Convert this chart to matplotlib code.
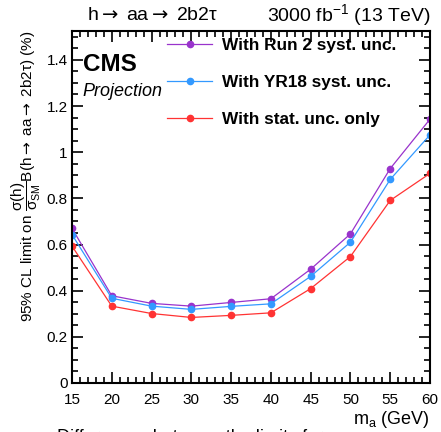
import matplotlib
matplotlib.use("Agg")
import matplotlib.pyplot as plt
from matplotlib.ticker import MultipleLocator

plt.rcParams['font.family'] = ['Liberation Sans', 'DejaVu Sans']
plt.rcParams['mathtext.fontset'] = 'custom'
plt.rcParams['mathtext.rm'] = 'Liberation Sans'
plt.rcParams['mathtext.it'] = 'Liberation Sans:italic'
plt.rcParams['mathtext.bf'] = 'Liberation Sans:bold'
plt.rcParams['mathtext.sf'] = 'DejaVu Sans'

mass = [15, 20, 25, 30, 35, 40, 45, 50, 55, 60]
run2_syst = [0.670, 0.378, 0.345, 0.333, 0.349, 0.365, 0.493, 0.646, 0.929, 1.143]
yr18_syst = [0.643, 0.367, 0.333, 0.319, 0.332, 0.343, 0.462, 0.610, 0.882, 1.075]
stat_only = [0.593, 0.333, 0.301, 0.284, 0.293, 0.304, 0.409, 0.548, 0.791, 0.908]
labels = ['With Run 2 syst. unc.', 'With YR18 syst. unc.', 'With stat. unc. only']
colors = ['#9933CC', '#3399FF', '#FF3333']

ARR = r'$\mathsf{\rightarrow}$'

fig = plt.figure(figsize=(4.41, 4.32), dpi=100)
ax = fig.add_axes([72/441, 1-383/432, (430-72)/441, (383-31)/432])

for vals, lab, col in zip([run2_syst, yr18_syst, stat_only], labels, colors):
    ax.plot(mass, vals, '-', color=col, lw=0.9, marker='o', ms=4.5, mec=col, mfc=col, label=lab)

ax.set_xlim(15, 60)
ax.set_ylim(0, 1.525)
ax.xaxis.set_major_locator(MultipleLocator(5))
ax.xaxis.set_minor_locator(MultipleLocator(1))
ax.yaxis.set_major_locator(MultipleLocator(0.2))
ax.yaxis.set_minor_locator(MultipleLocator(0.05))
ax.set_yticks([0, 0.2, 0.4, 0.6, 0.8, 1.0, 1.2, 1.4])
ax.set_yticklabels(['0', '0.2', '0.4', '0.6', '0.8', '1', '1.2', '1.4'])
ax.tick_params(which='both', direction='in', top=True, right=True, labelsize=11, width=1.2)
ax.tick_params(which='major', length=8)
ax.tick_params(which='minor', length=4)
ax.tick_params(axis='x', which='major', pad=7)
ax.tick_params(axis='y', which='major', pad=3)
for s in ax.spines.values():
    s.set_linewidth(1.5)

ax.set_xlabel(r'm$_\mathrm{a}$ (GeV)', fontsize=13, loc='right', labelpad=2)
ax.set_ylabel('95% CL limit on ' + r'$\dfrac{\mathrm{\sigma(h)}}{\mathrm{\sigma_{SM}}}$'
              + 'B(h' + ARR + ' aa' + ARR + ' 2b2τ) (%)',
              fontsize=11, loc='top', labelpad=3)

fig.text(87/441, 1-15/432, 'h' + ARR + ' aa' + ARR + ' 2b2τ', fontsize=14, va='center', ha='left')
fig.text(430/441, 1-15/432, r'3000 fb$^{-1}$ (13 TeV)', fontsize=14, va='center', ha='right')

ax.text(0.03, 0.906, 'CMS', transform=ax.transAxes, fontsize=17.5, fontweight='bold', va='center')
ax.text(0.03, 0.827, 'Projection', transform=ax.transAxes, fontsize=13, style='italic', va='center')

leg = ax.legend(loc='upper left', bbox_to_anchor=(0.232, 1.015), frameon=False,
                prop={'weight': 'bold', 'size': 12.4}, handlelength=2.6,
                labelspacing=1.27, handletextpad=0.6, borderaxespad=0.3)

fig.text(57/441, -0.012, 'Differences between the limits for', fontsize=13, va='center', ha='left')

fig.savefig('out.png', dpi=100)
